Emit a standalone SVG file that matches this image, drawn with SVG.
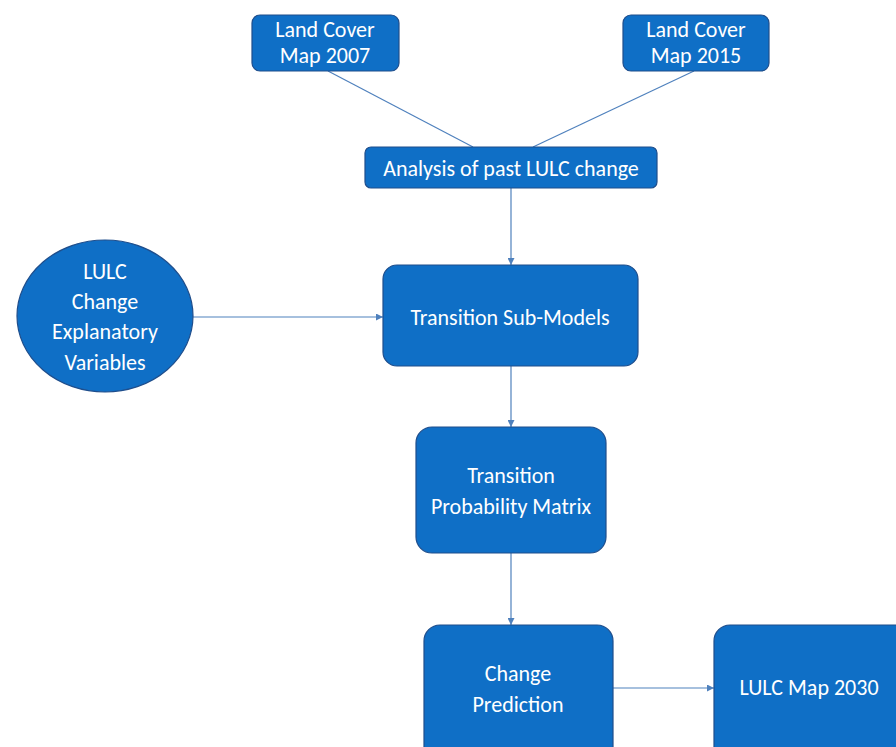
<svg xmlns="http://www.w3.org/2000/svg" width="896" height="747" viewBox="0 0 896 747">
<style>
.n{fill:#0F6FC6;stroke:#1F4E8C;stroke-width:1.2}
.t{fill:#ffffff;font-family:Carlito,Roboto,"Liberation Sans",sans-serif;font-size:22px;text-anchor:middle}
.c{stroke:#4F81BD;stroke-width:1.2;fill:none}
</style>
<defs>
<marker id="a" viewBox="0 0 10 10" refX="10" refY="5" markerWidth="7" markerHeight="7" markerUnits="userSpaceOnUse" orient="auto"><path d="M0,0L10,5L0,10z" fill="#4F81BD"/></marker>
</defs>
<rect width="896" height="747" fill="#ffffff"/>
<g id="connectors">
<line class="c" x1="328" y1="71" x2="473" y2="147"/>
<line class="c" x1="694" y1="71" x2="533" y2="147"/>
<line class="c" x1="511" y1="188" x2="511" y2="265" marker-end="url(#a)"/>
<line class="c" x1="193" y1="317" x2="383" y2="317" marker-end="url(#a)"/>
<line class="c" x1="511" y1="366" x2="511" y2="427" marker-end="url(#a)"/>
<line class="c" x1="511" y1="553" x2="511" y2="625" marker-end="url(#a)"/>
<line class="c" x1="613" y1="688" x2="714" y2="688" marker-end="url(#a)"/>
</g>
<g id="lc2007"><rect class="n" x="252" y="15" width="147" height="56" rx="8"/><text class="t" x="325" y="37">Land Cover</text><text class="t" x="325" y="63">Map 2007</text></g>
<g id="lc2015"><rect class="n" x="623" y="15" width="146" height="56" rx="8"/><text class="t" x="696" y="37">Land Cover</text><text class="t" x="696" y="63">Map 2015</text></g>
<g id="analysis"><rect class="n" x="365" y="147" width="292" height="41" rx="6"/><text class="t" x="511" y="176">Analysis of past LULC change</text></g>
<g id="variables"><ellipse class="n" cx="105" cy="316" rx="88" ry="76"/><text class="t" x="105" y="279">LULC</text><text class="t" x="105" y="309">Change</text><text class="t" x="105" y="339">Explanatory</text><text class="t" x="105" y="370">Variables</text></g>
<g id="submodels"><rect class="n" x="383" y="265" width="255" height="101" rx="14"/><text class="t" x="510" y="325">Transition Sub-Models</text></g>
<g id="matrix"><rect class="n" x="416" y="427" width="190" height="126" rx="16"/><text class="t" x="511" y="483">Transition</text><text class="t" x="511" y="514">Probability Matrix</text></g>
<g id="prediction"><rect class="n" x="424" y="625" width="189" height="140" rx="16"/><text class="t" x="518" y="681">Change</text><text class="t" x="518" y="712">Prediction</text></g>
<g id="map2030"><rect class="n" x="714" y="625" width="200" height="140" rx="16"/><text class="t" x="809" y="695">LULC Map 2030</text></g>
</svg>
